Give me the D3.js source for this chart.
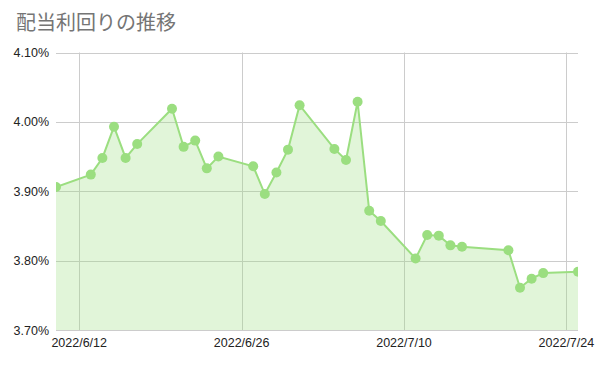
<!DOCTYPE html>
<html><head><meta charset="utf-8">
<script src="https://cdn.jsdelivr.net/npm/d3@7"></script>
<style>body{margin:0;background:#fff}svg{display:block}</style>
</head><body>
<svg id="c" width="596" height="366"></svg>
<script>
const title = "配当利回りの推移";
const dates = ["2022-06-10","2022-06-13","2022-06-14","2022-06-15","2022-06-16","2022-06-17",
 "2022-06-20","2022-06-21","2022-06-22","2022-06-23","2022-06-24",
 "2022-06-27","2022-06-28","2022-06-29","2022-06-30","2022-07-01",
 "2022-07-04","2022-07-05","2022-07-06","2022-07-07","2022-07-08",
 "2022-07-11","2022-07-12","2022-07-13","2022-07-14","2022-07-15",
 "2022-07-19","2022-07-20","2022-07-21","2022-07-22","2022-07-25"];
const yields = [3.906,3.924,3.948,3.993,3.948,3.968,
 4.019,3.964,3.973,3.933,3.950,
 3.936,3.896,3.927,3.960,4.024,
 3.961,3.945,4.029,3.872,3.857,
 3.803,3.837,3.836,3.822,3.820,
 3.815,3.761,3.774,3.782,3.784];
const yTicks = [3.70,3.80,3.90,4.00,4.10];
const xTicks = ["2022-06-12","2022-06-26","2022-07-10","2022-07-24"];
const xDomain = ["2022-06-10","2022-07-25"];

const parse = d3.utcParse("%Y-%m-%d");
const fmtX = d => `${d.getUTCFullYear()}/${d.getUTCMonth()+1}/${d.getUTCDate()}`;
const data = dates.map((d,i)=>({date:parse(d), v:yields[i]}));

const L=56, R=578, T=52.5, B=330;
const svg = d3.select("#c");
const x = d3.scaleUtc().domain(xDomain.map(parse)).range([L,R]);
const y = d3.scaleLinear().domain([3.70,4.10]).range([B,T]);

svg.append("text").attr("x",16).attr("y",30)
  .attr("font-family","'Noto Sans CJK JP', sans-serif").attr("font-size",20)
  .attr("fill","#757575").text(title);

const defs = svg.append("defs");
defs.append("clipPath").attr("id","clip").append("rect")
  .attr("x",L).attr("y",T-10).attr("width",R-L).attr("height",B-T+10);

// horizontal grid
svg.append("g").selectAll("line").data(yTicks).join("line")
  .attr("x1",L).attr("x2",R).attr("y1",d=>Math.round(y(d))+0.5).attr("y2",d=>Math.round(y(d))+0.5)
  .attr("stroke","#cccccc").attr("stroke-width",1);
// vertical grid
svg.append("g").selectAll("line").data(xTicks).join("line")
  .attr("x1",d=>Math.round(x(parse(d)))+0.5).attr("x2",d=>Math.round(x(parse(d)))+0.5)
  .attr("y1",T).attr("y2",B).attr("stroke","#cccccc").attr("stroke-width",1);

// y labels
svg.append("g").selectAll("text").data(yTicks).join("text")
  .attr("x",49).attr("y",d=>y(d)+4.5).attr("text-anchor","end")
  .attr("font-family","Arial, 'Liberation Sans', sans-serif").attr("font-size",12.5)
  .attr("fill","#222").text(d=>d.toFixed(2)+"%");
// x labels
svg.append("g").selectAll("text").data(xTicks).join("text")
  .attr("x",d=>x(parse(d))).attr("y",347).attr("text-anchor","middle")
  .attr("font-family","Arial, 'Liberation Sans', sans-serif").attr("font-size",12.5)
  .attr("fill","#222").text(d=>fmtX(parse(d)));

const g = svg.append("g").attr("clip-path","url(#clip)");
const col = "#9bde80";
g.append("path").datum(data)
  .attr("d", d3.area().x(d=>x(d.date)).y0(y(3.70)).y1(d=>y(d.v)))
  .attr("fill",col).attr("fill-opacity",0.3);
g.append("path").datum(data)
  .attr("d", d3.line().x(d=>x(d.date)).y(d=>y(d.v)))
  .attr("fill","none").attr("stroke",col).attr("stroke-width",2);
g.selectAll("circle").data(data).join("circle")
  .attr("cx",d=>x(d.date)).attr("cy",d=>y(d.v)).attr("r",5).attr("fill",col);
</script>
</body></html>
